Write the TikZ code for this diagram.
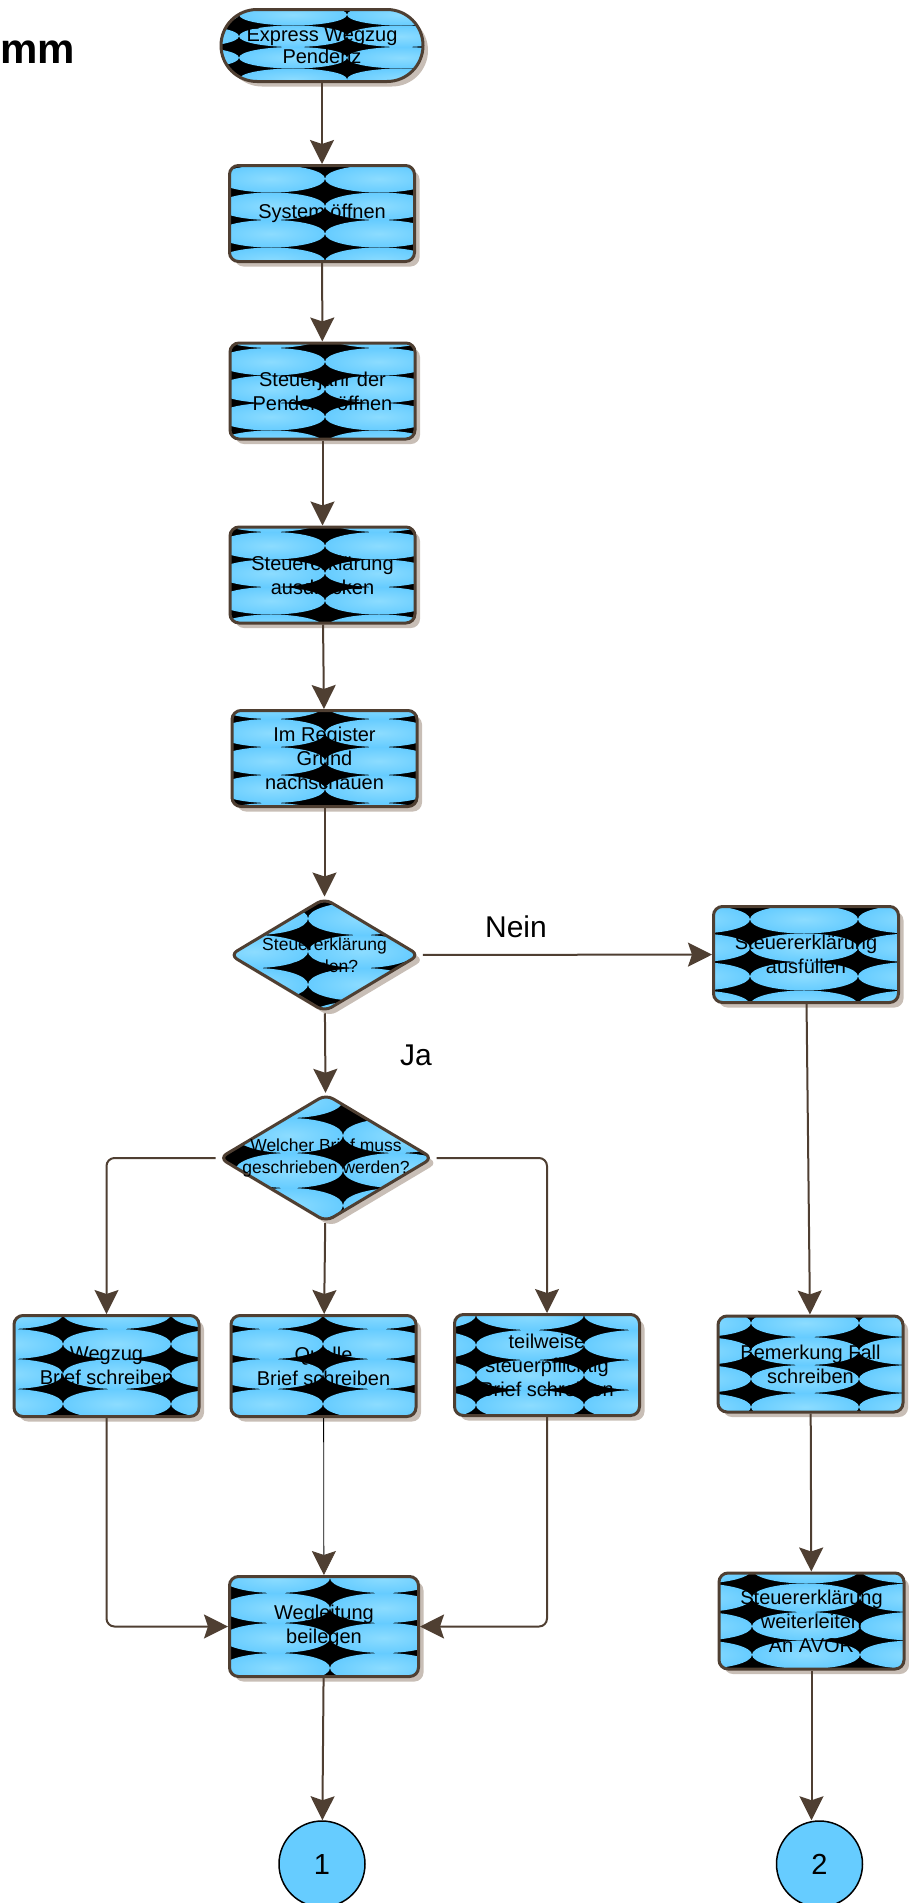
\documentclass[tikz,border=0pt]{standalone}
\usepackage{fontspec}
\setmainfont{Liberation Sans}
\usetikzlibrary{arrows.meta}
\usetikzlibrary{calc}
\usetikzlibrary{shadows}
\usetikzlibrary{shapes.geometric}

\definecolor{linebrown}{RGB}{79,63,50}
\definecolor{shadowgray}{RGB}{200,190,182}
\definecolor{tileblue}{RGB}{102,204,255}
\definecolor{tilelight}{RGB}{140,220,255}

\tikzset{
  tiles/.style n args = {3}{
    path picture = {
      \fill[black] (path picture bounding box.south west)
        rectangle (path picture bounding box.north east);
      \foreach \i in {-2, ..., 2}
        \foreach \j in {-3, ..., 3}
          \shade[inner color = tilelight, outer color = tileblue]
            ($(path picture bounding box.center) + ({#1 + 54 + 108*\i}, {#2 + #3/2 + #3*\j})$)
            ellipse [x radius = 54, y radius = #3/2];
    }
  },
  boxshadow/.style = {drop shadow = {shadow xshift = 5pt, shadow yshift = -5pt,
    fill = shadowgray, opacity = 1}},
  task/.style = {draw = linebrown, line width = 3pt, rounded corners = 9pt,
    minimum width = 185pt, minimum height = 96pt, inner sep = 0pt,
    align = center, font = \fontsize{20}{24}\selectfont, boxshadow},
  terminal/.style = {task, rounded corners = 36pt, minimum width = 202pt,
    minimum height = 72pt, font = \fontsize{20}{22}\selectfont},
  decision/.style = {diamond, draw = linebrown, line width = 3pt,
    rounded corners = 8pt, inner sep = 0pt, boxshadow},
  dtext/.style = {align = center, inner sep = 0pt, font = \fontsize{17.5}{22}\selectfont},
  offpage/.style = {circle, draw = black, line width = 1.5pt, fill = tileblue,
    minimum size = 86pt, inner sep = 0pt, font = \fontsize{29}{29}\selectfont},
  answer/.style = {anchor = base, inner sep = 0pt, font = \fontsize{30}{30}\selectfont},
  heading/.style = {anchor = base west, inner sep = 0pt,
    font = \bfseries\fontsize{42}{42}\selectfont},
  flow/.style = {draw = linebrown, line width = 2pt,
    -{Stealth[length = 24pt, width = 24pt, inset = 4pt]}},
  thinflow/.style = {draw = black, line width = 0.8pt,
    -{Stealth[length = 24pt, width = 24pt, inset = 4pt, color = linebrown]}}
}

\begin{document}
\begin{tikzpicture}[x = 1pt, y = -1pt]
  \useasboundingbox (0, 0) rectangle (908, 1903);

  \node[heading] (titel) at (0, 63) {mm};

  \node[terminal, tiles = {25}{1.5}{21.5}] (start) at (322, 45.5) {Express Wegzug\\Pendenz};
  \node[task, tiles = {3}{6.5}{27.5}] (system) at (322, 213.5) {System öffnen};
  \node[task, tiles = {2.5}{12}{27.5}] (jahr) at (322.5, 391) {Steuerjahr der\\Pendenz öffnen};
  \node[task, tiles = {2.5}{12}{27.5}] (druck) at (322.5, 575) {Steuererklärung\\ausdrucken};
  \node[task, tiles = {0.5}{-11.5}{28}] (register) at (324.5, 758.5) {Im Register\\Grund\\nachschauen};

  \node[decision, minimum width = 190pt, minimum height = 114pt,
    tiles = {-16.5}{13}{33}] (senden) at (324.5, 955) {};
  \node[dtext] (sendentext) at (senden) {Steuererklärung\\senden?};
  \node[task, tiles = {52}{7.5}{28.5}] (ausfuellen) at (806, 954.5) {Steuererklärung\\ausfüllen};

  \node[decision, minimum width = 214pt, minimum height = 128pt,
    tiles = {17}{-5}{35}] (brief) at (326, 1158) {};
  \node[dtext] (brieftext) at (brief) {Welcher Brief muss\\geschrieben werden?};

  \node[task, minimum height = 101pt, tiles = {-43.5}{-7}{30}] (wegzug) at (106.5, 1366) {Wegzug\\Brief schreiben};
  \node[task, minimum height = 101pt, tiles = {-0.5}{-7}{30}] (quelle) at (323.5, 1366) {Quelle\\Brief schreiben};
  \node[task, minimum height = 101pt, tiles = {37}{-5}{30}] (teilweise) at (547, 1365) {teilweise\\steuerpflichtig\\Brief schreiben};
  \node[task, tiles = {48.5}{1}{28}] (bemerkung) at (810.5, 1364) {Bemerkung Fall\\schreiben};

  \node[task, minimum width = 189pt, minimum height = 100pt, tiles = {6}{-3.5}{30}] (wegleitung) at (324, 1626.5) {Wegleitung\\beilegen};
  \node[task, tiles = {48.5}{-9}{28.5}] (weiter) at (811.5, 1621) {Steuererklärung\\weiterleiten\\An AVOR};

  \node[offpage] (eins) at (322, 1864) {1};
  \node[offpage] (zwei) at (819.5, 1864) {2};

  \node[answer] (nein) at (516, 937) {Nein};
  \node[answer] (ja) at (416, 1065) {Ja};

  \draw[flow] (start) -- (system);
  \draw[flow] (system) -- (jahr);
  \draw[flow] (jahr) -- (druck);
  \draw[flow] (druck) -- (register);
  \draw[flow] (register) -- (senden);
  \draw[flow, shorten < = 2pt] (senden) -- (ausfuellen);
  \draw[flow] (senden) -- (brief);
  \draw[flow, rounded corners = 8pt, shorten < = 2pt] (brief.west) -| (wegzug);
  \draw[flow] (brief) -- (quelle);
  \draw[flow, rounded corners = 8pt, shorten < = 2pt] (brief.east) -| (teilweise);
  \draw[flow, rounded corners = 8pt] (wegzug) |- (wegleitung);
  \draw[thinflow] (quelle) -- (wegleitung);
  \draw[flow, rounded corners = 8pt] (teilweise) |- (wegleitung);
  \draw[flow] (wegleitung) -- (eins);
  \draw[flow] (ausfuellen) -- (bemerkung);
  \draw[flow] (bemerkung) -- (weiter);
  \draw[flow] (weiter.south) -- (weiter.south |- zwei.north);
\end{tikzpicture}
\end{document}
